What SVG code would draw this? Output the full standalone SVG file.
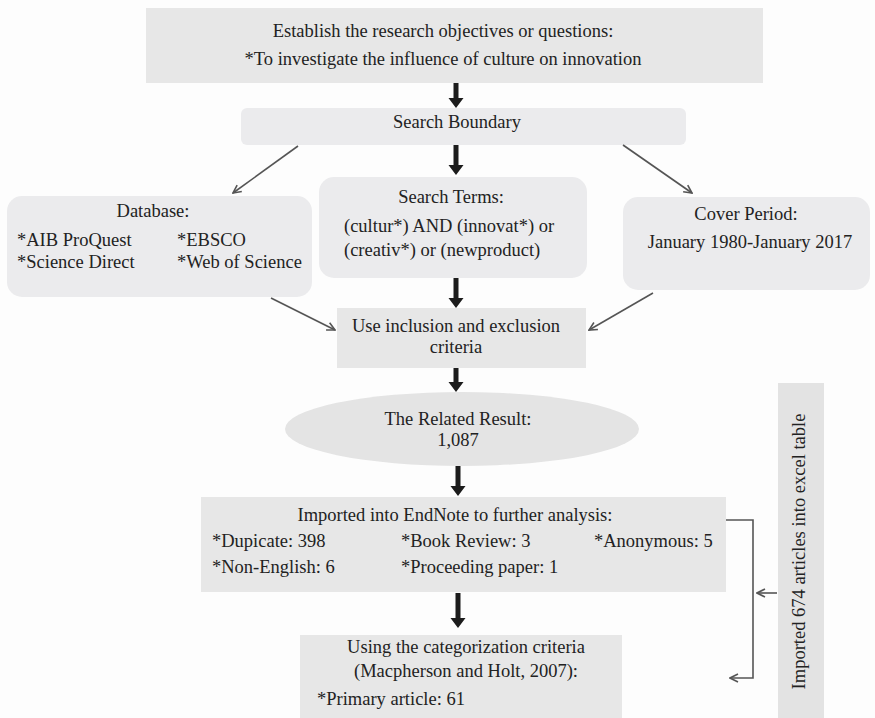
<svg xmlns="http://www.w3.org/2000/svg" width="875" height="718" viewBox="0 0 875 718">
<style>
text{font-family:"Liberation Serif","Times New Roman",serif;font-size:18.5px;fill:#222}
.m{text-anchor:middle}
.box{fill:#e7e7e7}
.rbox{fill:#ebebed}
.thin{stroke:#555;stroke-width:1.6;fill:none}
.thick{fill:#1c1c1c}
</style>
<defs>
<marker id="open" viewBox="0 0 10 10" refX="9" refY="5" markerWidth="10" markerHeight="10" markerUnits="userSpaceOnUse" orient="auto">
<path d="M1,1 L9,5 L1,9" fill="none" stroke="#555" stroke-width="1.6"/>
</marker>
</defs>
<rect width="875" height="718" fill="#fdfdfd"/>
<g id="objectives">
<rect class="box" x="146" y="8" width="617" height="75"/>
<text class="m" x="443" y="37">Establish the research objectives or questions:</text>
<text class="m" x="443" y="65">*To investigate the influence of culture on innovation</text>
</g>
<g id="boundary">
<rect class="rbox" x="241" y="108" width="445" height="37" rx="6"/>
<text class="m" x="457" y="128">Search Boundary</text>
</g>
<g id="database">
<rect class="rbox" x="7" y="196" width="305" height="101" rx="15"/>
<text class="m" x="153" y="217">Database:</text>
<text x="17" y="246">*AIB ProQuest</text>
<text x="177" y="246">*EBSCO</text>
<text x="17" y="268">*Science Direct</text>
<text x="177" y="268">*Web of Science</text>
</g>
<g id="terms">
<rect class="rbox" x="319" y="177" width="268" height="101" rx="15"/>
<text class="m" x="451" y="203">Search Terms:</text>
<text x="344" y="232">(cultur*) AND (innovat*) or</text>
<text x="344" y="256">(creativ*) or (newproduct)</text>
</g>
<g id="period">
<rect class="rbox" x="623" y="197" width="247" height="93" rx="15"/>
<text class="m" x="746" y="220">Cover Period:</text>
<text class="m" x="750" y="248">January 1980-January 2017</text>
</g>
<g id="criteria">
<rect class="box" x="337" y="308" width="249" height="60"/>
<text class="m" x="456" y="332">Use inclusion and exclusion</text>
<text class="m" x="456" y="353">criteria</text>
</g>
<g id="result">
<ellipse cx="462" cy="429" rx="177" ry="37" fill="#e4e4e4"/>
<text class="m" x="458" y="425">The Related Result:</text>
<text class="m" x="458" y="446">1,087</text>
</g>
<g id="endnote">
<rect class="box" x="201" y="497" width="525" height="95"/>
<text class="m" x="455" y="521">Imported into EndNote to further analysis:</text>
<text x="212" y="547">*Dupicate: 398</text>
<text x="401" y="547">*Book Review: 3</text>
<text x="594" y="547">*Anonymous: 5</text>
<text x="212" y="573">*Non-English: 6</text>
<text x="401" y="573">*Proceeding paper: 1</text>
</g>
<g id="categorization">
<rect class="box" x="300" y="635" width="322" height="90"/>
<text class="m" x="466" y="653">Using the categorization criteria</text>
<text class="m" x="466" y="677">(Macpherson and Holt, 2007):</text>
<text x="317" y="705">*Primary article: 61</text>
</g>
<g id="excel">
<rect x="778" y="383" width="46" height="340" fill="#e3e3e3"/>
<text class="m" transform="translate(805,551.5) rotate(-90)">Imported 674 articles into excel table</text>
</g>
<g id="connectors">
<path class="thick" d="M453.5,83 h5 v15 h5 l-7.5,10 l-7.5,-10 h5 z"/>
<path class="thick" d="M453.5,145 h5 v20 h5 l-7.5,10 l-7.5,-10 h5 z"/>
<path class="thick" d="M453.5,278 h5 v20 h5 l-7.5,10 l-7.5,-10 h5 z"/>
<path class="thick" d="M453.5,368 h5 v14 h5 l-7.5,10 l-7.5,-10 h5 z"/>
<path class="thick" d="M455.5,466 h5 v20 h5 l-7.5,10 l-7.5,-10 h5 z"/>
<path class="thick" d="M455.5,593 h5 v25 h5 l-7.5,10 l-7.5,-10 h5 z"/>
<line class="thin" x1="298" y1="146" x2="233" y2="193" marker-end="url(#open)"/>
<line class="thin" x1="623" y1="145" x2="692" y2="193" marker-end="url(#open)"/>
<line class="thin" x1="271" y1="298" x2="335" y2="330" marker-end="url(#open)"/>
<line class="thin" x1="653" y1="293" x2="589" y2="330" marker-end="url(#open)"/>
<path class="thin" d="M726,520 H753 V678 H730" marker-end="url(#open)"/>
<line class="thin" x1="777" y1="593" x2="757" y2="593" marker-end="url(#open)"/>
</g>
</svg>
